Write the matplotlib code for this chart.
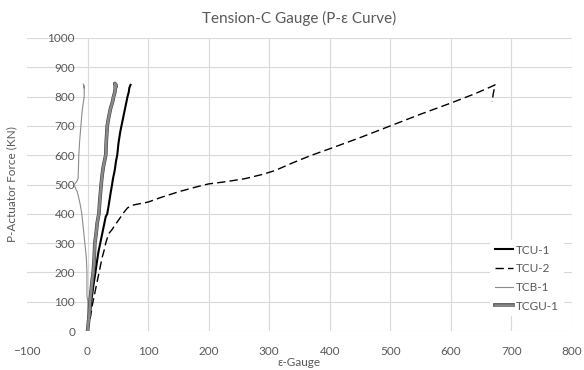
import matplotlib
matplotlib.use('Agg')
import matplotlib.pyplot as plt
import matplotlib.patheffects as pe

plt.rcParams['font.family'] = ['Lato', 'DejaVu Sans']

# TCU-1 (strain, force)
tcu1_x = [0, 1, 3, 5, 6, 8, 10, 13, 15, 18, 21, 24, 27, 30, 32.5, 35, 38, 40.5, 42, 45, 47, 49,
          51, 54, 56, 58, 61, 64, 66, 68, 69, 71]
tcu1_f = [0, 20, 50, 80, 100, 130, 160, 200, 230, 270, 300, 330, 360, 390, 400, 430, 470, 500,
          520, 550, 580, 600, 640, 680, 700, 720, 750, 780, 800, 815, 830, 840]

# TCU-2
tcu2_x = [0, 2, 5, 8, 12, 16, 20, 24, 28, 30, 33, 36, 40, 45, 50, 55, 60, 66, 72, 80, 90, 100,
          120, 150, 180, 200, 230, 260, 290, 310, 340, 370, 400, 450, 500, 550, 600, 640, 660,
          673, 670, 668]
tcu2_f = [0, 20, 50, 90, 130, 170, 210, 250, 280, 300, 320, 335, 345, 360, 375, 390, 405, 420,
          428, 432, 436, 440, 455, 475, 492, 502, 510, 520, 535, 548, 575, 600, 622, 660, 700,
          740, 778, 810, 828, 840, 810, 782]

# TCB-1
tcb1_x = [0, 0.5, 0.5, -1, -1, -2, -4.5, -7, -9.5, -12, -14, -17, -20.5, -22, -18, -15.6, -15,
          -14.5, -13, -11, -9, -7, -5.5, -5.5, -7, -6]
tcb1_f = [0, 50, 100, 120, 200, 250, 300, 350, 400, 430, 450, 475, 490, 500, 510, 520, 560,
          600, 650, 700, 750, 780, 800, 835, 843, 830]

# TCGU-1
tcgu1_x = [0, 1, 3, 4, 6, 8, 9.4, 11, 12, 14, 16, 18.7, 20, 22.5, 24, 26, 28, 30, 31, 32.5, 35,
           38, 41, 43, 45, 46, 47, 45, 46]
tcgu1_f = [0, 20, 60, 100, 140, 180, 200, 250, 300, 330, 370, 400, 440, 500, 530, 560, 580, 600,
           650, 700, 730, 760, 780, 800, 815, 830, 840, 845, 835]

x_ticks = [-100, 0, 100, 200, 300, 400, 500, 600, 700, 800]
y_ticks = [0, 100, 200, 300, 400, 500, 600, 700, 800, 900, 1000]

txt = '#595959'
grid = '#d9d9d9'

fig = plt.figure(figsize=(5.84, 3.70), dpi=100)
ax = fig.add_axes([27 / 584, 1 - 331 / 370, 545 / 584, 293 / 370])

# gridlines (none at -100)
for v in x_ticks[1:]:
    ax.axvline(v, color=grid, lw=0.8, zorder=0)
for v in y_ticks:
    ax.axhline(v, color=grid, lw=0.8, zorder=0)

ax.plot(tcu1_x, tcu1_f, color='black', lw=1.5, label='TCU-1', zorder=3)
ax.plot(tcu2_x, tcu2_f, color='black', lw=1.0, dashes=(6, 3), label='TCU-2', zorder=3)
ax.plot(tcb1_x, tcb1_f, color='#8c8c8c', lw=0.8, label='TCB-1', zorder=3)
ax.plot(tcgu1_x, tcgu1_f, color='#8a8a8a', lw=1.8, label='TCGU-1', zorder=4,
        path_effects=[pe.Stroke(linewidth=2.6, foreground='#404040'), pe.Normal()])

ax.set_xlim(-100, 800)
ax.set_ylim(0, 1000)
ax.set_xticks(x_ticks)
ax.set_yticks(y_ticks)

for s in ax.spines.values():
    s.set_visible(False)
ax.spines['left'].set_position(('data', 0))

ax.tick_params(axis='both', length=0, labelsize=8.5, labelcolor=txt)
ax.tick_params(axis='x', pad=11)
ax.tick_params(axis='y', pad=9)

ax.set_title('Tension-C Gauge (P-ε Curve)', color=txt, fontsize=11, pad=11)
ax.set_xlabel('ε-Gauge', color=txt, fontsize=8.5)
ax.set_ylabel('P-Actuator Force (KN)', color=txt, fontsize=8.5)
ax.xaxis.set_label_coords(0.5, -0.088)
ax.yaxis.set_label_coords(-0.018, 0.5)

leg = ax.legend(loc='lower right', bbox_to_anchor=(0.996, 0.03), frameon=True, fontsize=8.5,
                handlelength=1.5, handletextpad=0.3, labelspacing=0.65, borderpad=0.4)
leg.get_frame().set_edgecolor('none')
leg.get_frame().set_facecolor('white')
leg.get_frame().set_alpha(1)
for t in leg.get_texts():
    t.set_color(txt)

plt.savefig('out.png', dpi=100)
